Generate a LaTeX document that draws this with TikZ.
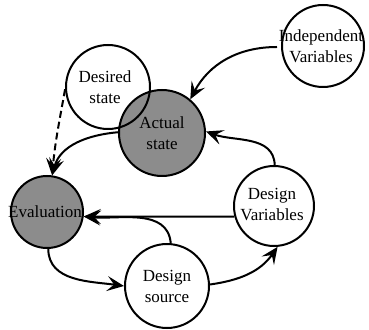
\documentclass[tikz,border=0pt]{standalone}
\usepackage{fontspec}
\setmainfont{Liberation Serif}
\usetikzlibrary{arrows.meta}
\definecolor{shade}{RGB}{140,140,140}
\begin{document}
\begin{tikzpicture}[x=1pt,y=1pt,
  bubble/.style={circle,draw=black,line width=2pt,inner sep=0pt},
  filled/.style={bubble,fill=shade},
  caption/.style={align=center,font=\fontsize{17}{21}\selectfont,inner sep=0pt},
  arr/.style={line width=2pt,-{Stealth[length=17pt,width=15pt,inset=7pt]}}]
\useasboundingbox (0,0) rectangle (369,329);
\clip (0,0) rectangle (369,329);

% circles
\node[filled,minimum size=86pt] (AS) at (162,196) {};
\node[bubble,minimum size=84pt] (DS) at (108,242) {};
\node[bubble,minimum size=82pt,fill=white] (IV) at (323,283) {};
\node[filled,minimum size=72pt] (EV) at (47,117) {};
\node[bubble,minimum size=80pt,fill=white] (DV) at (274,123) {};
\node[bubble,minimum size=84pt,fill=white] (SRC) at (167,43) {};

% labels
\node[caption] (ASt) at (AS) {Actual\\state};
\node[caption] (DSt) at (105,242) {Desired\\state};
\node[caption] (IVt) at (321,283) {Independent\\Variables};
\node[caption] (EVt) at (45,117) {Evaluation};
\node[caption] (DVt) at (272,124) {Design\\Variables};
\node[caption] (SRCt) at (167,43) {Design\\source};

% connectors
\coordinate (ivs) at (277,282);
\draw[arr] (ivs) to[out=180,in=62] (AS.50);
\draw[arr,dash pattern=on 7pt off 4pt] (DS.183) to[out=-100,in=85] (EV.82);
\draw[arr] (AS.179) to[out=185,in=75] (EV.82);
\draw[arr] (DV.89) to[out=92,in=-20] (AS.2);
\draw[arr] (DV.195) -- (EV.-7);
\draw[arr] (SRC.85) to[out=95,in=-5] (EV.-7);
\draw[arr] (EV.-88) to[out=-90,in=172] (SRC.180);
\draw[arr] (SRC.2) to[out=8,in=-125] (DV.-85);
\end{tikzpicture}
\end{document}
